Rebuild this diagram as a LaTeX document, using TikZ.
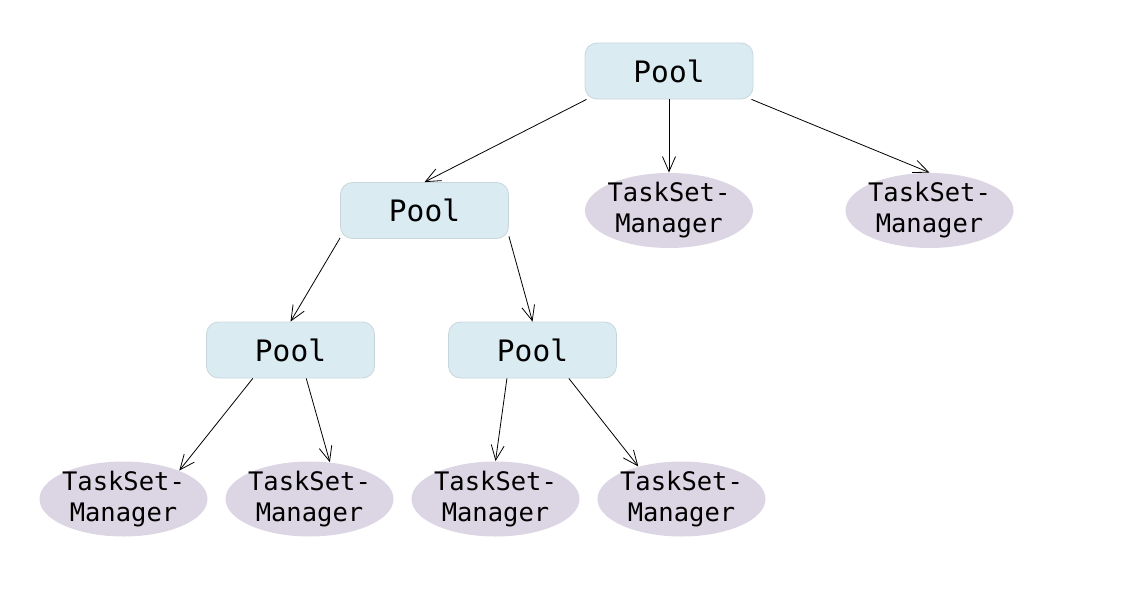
\documentclass[tikz,border=0pt]{standalone}
\usepackage{fontspec}
\setmonofont{DejaVu Sans Mono}
\usetikzlibrary{arrows.meta,shapes.geometric}
\definecolor{poolfill}{HTML}{DAECF2}
\definecolor{pooldraw}{HTML}{C8D6DC}
\definecolor{tsmfill}{HTML}{DCD6E4}
\begin{document}
\begin{tikzpicture}[x=1pt, y=-1pt, line width=0.8pt,
  >={Straight Barb[length=15pt,width=13pt]},
  pool/.style = {shape=rectangle, rounded corners=12pt,
    draw=pooldraw, fill=poolfill, minimum width=168pt, minimum height=56pt,
    font=\ttfamily\fontsize{29.5}{34}\selectfont},
  tsm/.style = {shape=ellipse, fill=tsmfill, align=center,
    inner xsep=-2pt, inner ysep=-2pt,
    minimum width=168pt, minimum height=75pt,
    font=\ttfamily\fontsize{25.5}{31}\selectfont}]
  \useasboundingbox (0,0) rectangle (1126,610);
  % pools
  \node[pool] (root) at (669,71) {Pool};
  \node[pool] (mid) at (424.5,210.5) {Pool};
  \node[pool] (left) at (290.5,350) {Pool};
  \node[pool] (right) at (532.5,350) {Pool};
  % task set managers
  \node[tsm] (tsmA) at (669,210.5) {TaskSet-\\Manager};
  \node[tsm] (tsmB) at (929.5,210.5) {TaskSet-\\Manager};
  \node[tsm] (tsmC) at (123.5,499) {TaskSet-\\Manager};
  \node[tsm] (tsmD) at (309.5,499) {TaskSet-\\Manager};
  \node[tsm] (tsmE) at (495.5,499) {TaskSet-\\Manager};
  \node[tsm] (tsmF) at (681.5,499) {TaskSet-\\Manager};
  % edges
  \draw[->] (root.199) -- (mid.north);
  \draw[->] (root.south) -- (tsmA.north);
  \draw[->] (root.341) -- (tsmB.north);
  \draw[->] (mid.198) -- (left.north);
  \draw[->] (mid.343) -- (right.north);
  \draw[->] (left.217) -- (tsmC.27);
  \draw[->] (left.299) -- (tsmD.61);
  \draw[->] (right.228) -- (tsmE.north);
  \draw[->] (right.322) -- (tsmF.143);
\end{tikzpicture}
\end{document}
